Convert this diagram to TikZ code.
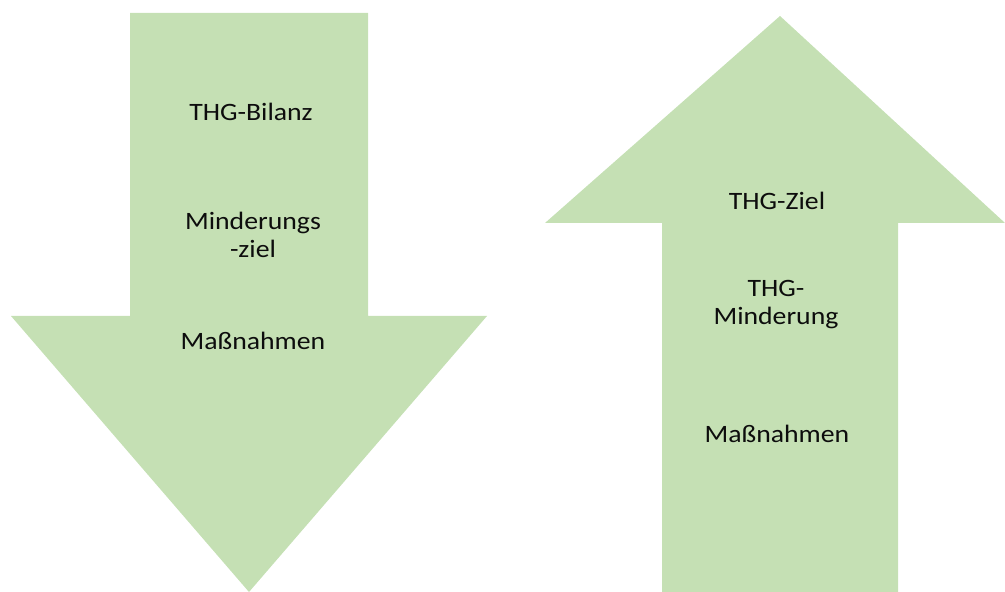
\documentclass[tikz,border=0pt]{standalone}
\usepackage{fontspec}
\setmainfont[FakeStretch=1.11]{Carlito}
\usepackage{tikz}
\definecolor{Leaf}{HTML}{C5E0B4}
\definecolor{Ink}{HTML}{0D0D0D}

\begin{document}
\begin{tikzpicture}[x=1pt,y=1pt,
    arrowtext/.style={align=center,text=Ink,inner sep=0pt,font=\fontsize{25}{28}\selectfont}]
    \useasboundingbox (0,0) rectangle (1005,592);

    % down arrow
    \fill[Leaf] (130,579) -- (368,579) -- (368,276) -- (487,276) -- (249,0) -- (11,276) -- (130,276) -- cycle;
    \node[arrowtext] (bilanz) at (251,480) {THG-Bilanz};
    \node[arrowtext] (ziel) at (253,357) {Minderungs\\-ziel};
    \node[arrowtext] (massL) at (253,251) {Maßnahmen};

    % up arrow
    \fill[Leaf] (662,0) -- (898,0) -- (898,369) -- (1005,369) -- (780,576) -- (545,369) -- (662,369) -- cycle;
    \node[arrowtext] (thgziel) at (777,391) {THG-Ziel};
    \node[arrowtext] (minderung) at (776,287) {THG-\\Minderung};
    \node[arrowtext] (massR) at (777,158) {Maßnahmen};
  \end{tikzpicture}
\end{document}
